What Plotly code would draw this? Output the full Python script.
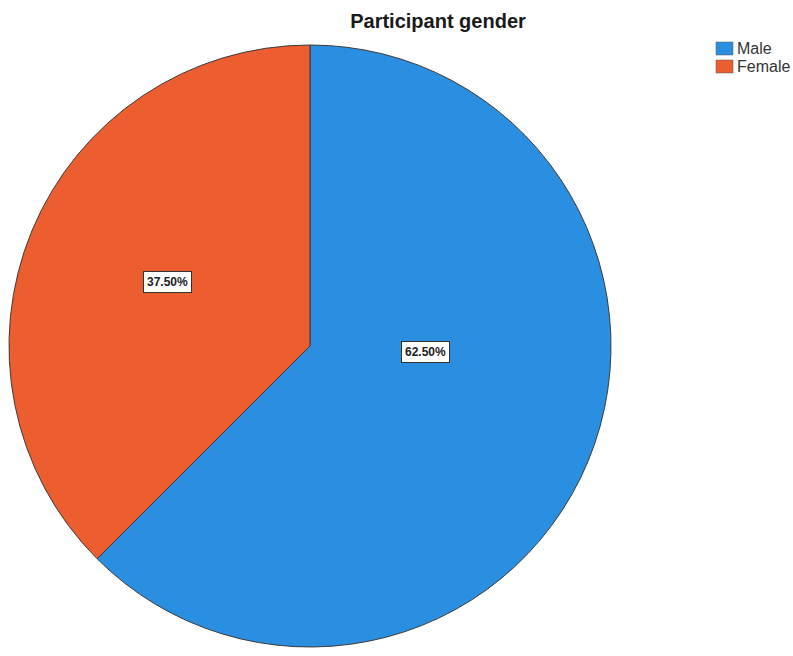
import plotly.graph_objects as go

# Participant gender split
categories = ["Male", "Female"]
shares = [62.5, 37.5]
colors = ["#2a8fe0", "#ec5d30"]

W, H = 793, 656

fig = go.Figure()
fig.add_trace(go.Pie(
    labels=categories,
    values=shares,
    sort=False,
    direction="clockwise",
    rotation=0,
    marker=dict(colors=colors, line=dict(color="#3a3a3a", width=1)),
    textinfo="none",
    hoverinfo="label+percent",
    showlegend=False,
    domain=dict(x=[9 / W, 611 / W], y=[1 - 653 / H, 1 - 39 / H]),
))

# Percentage labels in boxed callouts
label_pos = {"Male": (425, 352), "Female": (167, 282)}
for cat, val in zip(categories, shares):
    px, py = label_pos[cat]
    fig.add_annotation(
        x=px / W, y=1 - py / H, xref="paper", yref="paper",
        xanchor="center", yanchor="middle",
        text=f"<b>{val:.2f}%</b>", showarrow=False,
        font=dict(family="Liberation Sans, Arial", size=12, color="#222"),
        bgcolor="white", bordercolor="#333", borderwidth=1, borderpad=3,
    )

# Legend swatches
legend_y = [48.5, 66.5]
for cat, col, ly in zip(categories, colors, legend_y):
    fig.add_shape(
        type="rect", xref="paper", yref="paper",
        x0=716 / W, x1=733 / W, y0=1 - (ly + 6.5) / H, y1=1 - (ly - 6.5) / H,
        fillcolor=col, line=dict(color="#555", width=0.5),
    )
    fig.add_annotation(
        x=735 / W, y=1 - ly / H, xref="paper", yref="paper",
        text=cat, showarrow=False, xanchor="left", yanchor="middle",
        font=dict(family="Liberation Sans, Arial", size=16, color="#333"),
    )

fig.update_layout(
    width=W, height=H,
    margin=dict(l=0, r=0, t=0, b=0),
    paper_bgcolor="white", plot_bgcolor="white",
    title=dict(
        text="<b>Participant gender</b>",
        x=438 / W, xanchor="center", y=1 - 21 / H, yanchor="middle",
        font=dict(family="Liberation Sans, Arial", size=20, color="#1a1a1a"),
    ),
)

fig.write_html("out.html")
